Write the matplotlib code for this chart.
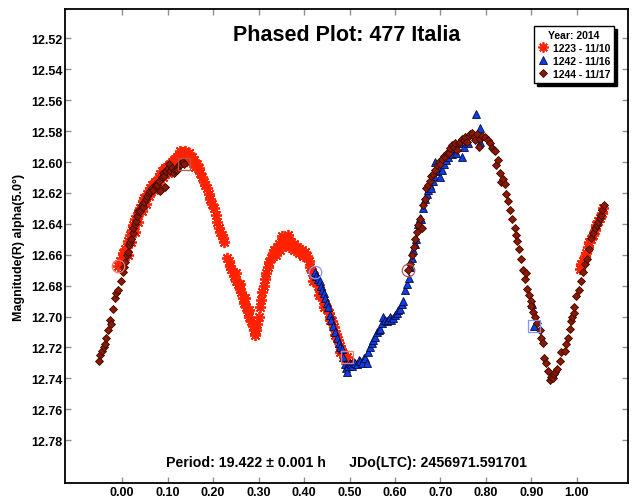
import matplotlib
matplotlib.use("Agg")
import matplotlib.pyplot as plt

plt.rcParams['font.family'] = ['Liberation Sans', 'DejaVu Sans']
plt.rcParams['font.weight'] = 'bold'

# session 1223 - 11/10 (first point = start of run, last point = end of run)
ph_1223 = [-0.008, -0.004, -0.001, 0.003, 0.007, 0.010, 0.014, 0.018, 0.021, 0.025,
           0.029, 0.032, 0.036, 0.040, 0.043, 0.046, 0.049, 0.054, 0.058, 0.062,
           0.066, 0.069, 0.073, 0.076, 0.080, 0.084, 0.088, 0.091, 0.095, 0.098,
           0.102, 0.105, 0.109, 0.113, 0.117, 0.120, 0.125, 0.131, 0.136, 0.142,
           0.147, 0.153, 0.158, 0.164, 0.168, 0.171, 0.175, 0.179, 0.183, 0.187,
           0.191, 0.194, 0.198, 0.202, 0.206, 0.209, 0.212, 0.216, 0.219, 0.222,
           0.225, 0.231, 0.234, 0.237, 0.240, 0.243, 0.247, 0.251, 0.255, 0.259,
           0.262, 0.265, 0.268, 0.272, 0.276, 0.280, 0.284, 0.287, 0.290, 0.292,
           0.295, 0.297, 0.300, 0.303, 0.305, 0.308, 0.311, 0.314, 0.317, 0.320,
           0.323, 0.327, 0.331, 0.335, 0.340, 0.345, 0.350, 0.355, 0.360, 0.366,
           0.372, 0.378, 0.384, 0.390, 0.396, 0.402, 0.407, 0.411, 0.414, 0.418,
           0.422, 0.426, 0.430, 0.434, 0.438, 0.442, 0.446, 0.450, 0.454, 0.458,
           0.462, 0.466, 0.470, 0.474, 0.478, 0.482, 0.486, 0.490,
           0.012, 0.020, 0.028, 0.035, 0.044, 0.052, 0.060, 0.070, 0.080, 0.090,
           0.100, 0.110, 0.120, 0.128, 0.138, 0.148, 0.135, 0.150, 0.160,
           0.338, 0.348, 0.358, 0.368, 0.378, 0.388, 0.398, 0.352, 0.364,
           0.250, 0.260, 0.270, 0.280, 0.420, 0.432, 0.444, 0.456, 0.468, 0.480,
           1.006, 1.010, 1.014, 1.018, 1.021, 1.024, 1.027, 1.031, 1.035, 1.039,
           1.043, 1.047, 1.051, 1.055, 1.058,
           0.494]
mag_1223 = [12.667, 12.664, 12.662, 12.659, 12.656, 12.655, 12.651, 12.647, 12.644, 12.641,
            12.637, 12.635, 12.633, 12.630, 12.628, 12.625, 12.623, 12.621, 12.619, 12.617,
            12.615, 12.614, 12.613, 12.612, 12.610, 12.608, 12.606, 12.605, 12.604, 12.603,
            12.602, 12.601, 12.600, 12.599, 12.598, 12.597, 12.596, 12.595, 12.595, 12.595,
            12.596, 12.597, 12.599, 12.601, 12.604, 12.607, 12.610, 12.613, 12.615, 12.617,
            12.621, 12.624, 12.627, 12.630, 12.634, 12.639, 12.643, 12.645, 12.647, 12.649,
            12.652, 12.662, 12.664, 12.667, 12.669, 12.671, 12.674, 12.677, 12.679, 12.682,
            12.684, 12.688, 12.691, 12.694, 12.697, 12.700, 12.703, 12.706, 12.709, 12.712,
            12.709, 12.705, 12.700, 12.694, 12.689, 12.684, 12.680, 12.676, 12.672, 12.668,
            12.665, 12.662, 12.659, 12.657, 12.655, 12.653, 12.652, 12.651, 12.650, 12.651,
            12.652, 12.653, 12.655, 12.656, 12.657, 12.658, 12.661, 12.664, 12.668, 12.671,
            12.674, 12.677, 12.680, 12.683, 12.686, 12.689, 12.692, 12.695, 12.698, 12.700,
            12.703, 12.707, 12.711, 12.715, 12.719, 12.721, 12.724, 12.728,
            12.660, 12.652, 12.645, 12.639, 12.632, 12.627, 12.622, 12.618, 12.614, 12.610,
            12.607, 12.604, 12.602, 12.593, 12.593, 12.594, 12.599, 12.600, 12.603,
            12.660, 12.657, 12.654, 12.655, 12.657, 12.659, 12.661, 12.648, 12.647,
            12.672, 12.679, 12.688, 12.696, 12.677, 12.686, 12.694, 12.702, 12.712, 12.723,
            12.669, 12.666, 12.664, 12.661, 12.659, 12.655, 12.652, 12.650, 12.647, 12.644,
            12.641, 12.638, 12.636, 12.633, 12.630,
            12.726]

# session 1242 - 11/16
ph_1242 = [0.424, 0.426, 0.430, 0.434, 0.437, 0.440, 0.443, 0.446, 0.450, 0.453,
           0.457, 0.460, 0.464, 0.468, 0.472, 0.476, 0.480, 0.483, 0.486, 0.490,
           0.492, 0.494, 0.497, 0.500, 0.503, 0.505, 0.508, 0.512, 0.516, 0.520,
           0.524, 0.527, 0.531, 0.535, 0.538, 0.541, 0.545, 0.549, 0.552, 0.556,
           0.560, 0.564, 0.567, 0.571, 0.574, 0.578, 0.582, 0.585, 0.589, 0.592,
           0.596, 0.600, 0.604, 0.607, 0.611, 0.615, 0.618, 0.622, 0.626, 0.631,
           0.634, 0.637, 0.640, 0.643, 0.646, 0.651, 0.655, 0.658, 0.662, 0.666,
           0.670, 0.673, 0.677, 0.680, 0.684, 0.686, 0.688, 0.692, 0.696, 0.699,
           0.703, 0.707, 0.712, 0.717, 0.721, 0.726, 0.730, 0.735, 0.741, 0.747,
           0.752, 0.760, 0.778, 0.787, 0.787, 0.902, 0.905]
mag_1242 = [12.671, 12.674, 12.676, 12.677, 12.680, 12.683, 12.685, 12.688, 12.691, 12.694,
            12.699, 12.702, 12.706, 12.710, 12.714, 12.717, 12.720, 12.721, 12.726, 12.731,
            12.733, 12.736, 12.732, 12.730, 12.731, 12.732, 12.729, 12.730, 12.731, 12.728,
            12.729, 12.730, 12.727, 12.727, 12.730, 12.723, 12.720, 12.717, 12.715, 12.713,
            12.710, 12.709, 12.708, 12.704, 12.700, 12.702, 12.703, 12.702, 12.700, 12.702,
            12.701, 12.699, 12.698, 12.696, 12.695, 12.692, 12.690, 12.683, 12.679, 12.675,
            12.668, 12.662, 12.657, 12.653, 12.650, 12.640, 12.636, 12.637, 12.630, 12.624,
            12.621, 12.618, 12.615, 12.617, 12.612, 12.609, 12.600, 12.606, 12.603, 12.610,
            12.605, 12.601, 12.599, 12.597, 12.593, 12.595, 12.591, 12.594, 12.588, 12.597,
            12.590, 12.588, 12.569, 12.578, 12.587, 12.692, 12.706]

# session 1244 - 11/17
ph_1244 = [0.629, 0.633, 0.637, 0.641, 0.644, 0.648, 0.651, 0.655, 0.659, 0.662,
           0.665, 0.668, 0.672, 0.677, 0.680, 0.684, 0.688, 0.692, 0.696, 0.700,
           0.703, 0.707, 0.711, 0.714, 0.718, 0.722, 0.725, 0.729, 0.733, 0.736,
           0.740, 0.744, 0.747, 0.751, 0.755, 0.758, 0.762, 0.766, 0.769, 0.773,
           0.776, 0.780, 0.784, 0.788, 0.792, 0.798, 0.805, 0.810, 0.813, 0.817,
           0.820, 0.823, 0.827, 0.831, 0.834, 0.838, 0.842, 0.845, 0.849, 0.853,
           0.858, 0.864, 0.867, 0.869, 0.873, 0.876, 0.882, 0.886, 0.888, 0.891,
           0.895, 0.898, 0.900, 0.904, 0.908, 0.913, 0.918, 0.920, 0.925, 0.928,
           0.932, 0.937, 0.941, 0.944, 0.947, 0.950, 0.952, 0.957, 0.963, 0.966,
           0.974, 0.977, 0.981, 0.985, 0.986, 0.990, 0.993, 0.993, 0.999, 1.005,
           1.010, 1.014, 1.018, 1.023, 1.027, 1.032, 1.036, 1.040, 1.044, 1.047,
           1.050, 1.053, 1.056, 1.059,
           -0.051, -0.048, -0.044, -0.040, -0.037, -0.035, -0.032, -0.026, -0.024, -0.020,
           -0.015, -0.013, -0.010, -0.003, 0.001, 0.004, 0.007, 0.010, 0.012, 0.015,
           0.018, 0.020, 0.023, 0.025, 0.028, 0.031, 0.033, 0.036, 0.040, 0.043,
           0.046, 0.049, 0.052, 0.055, 0.058, 0.062, 0.065, 0.068, 0.072, 0.076,
           0.080, 0.083, 0.087, 0.090, 0.093, 0.095, 0.096, 0.100, 0.103, 0.106,
           0.110, 0.113, 0.117, 0.120, 0.124, 0.127, 0.130, 0.134, 0.137]
mag_1244 = [12.670, 12.666, 12.660, 12.655, 12.650, 12.645, 12.641, 12.637, 12.643, 12.628,
            12.624, 12.617, 12.615, 12.612, 12.609, 12.608, 12.605, 12.602, 12.600, 12.601,
            12.598, 12.596, 12.597, 12.594, 12.594, 12.591, 12.589, 12.590, 12.588, 12.592,
            12.588, 12.587, 12.585, 12.586, 12.584, 12.587, 12.583, 12.582, 12.581, 12.584,
            12.586, 12.582, 12.590, 12.585, 12.583, 12.584, 12.586, 12.588, 12.591, 12.592,
            12.593, 12.602, 12.599, 12.607, 12.613, 12.611, 12.614, 12.621, 12.625, 12.631,
            12.637, 12.643, 12.647, 12.651, 12.656, 12.663, 12.670, 12.676, 12.672, 12.682,
            12.686, 12.690, 12.693, 12.697, 12.700, 12.704, 12.709, 12.714, 12.717, 12.727,
            12.730, 12.735, 12.741, 12.739, 12.740, 12.737, 12.736, 12.734, 12.729, 12.723,
            12.722, 12.718, 12.714, 12.708, 12.703, 12.700, 12.698, 12.694, 12.687, 12.683,
            12.677, 12.671, 12.666, 12.663, 12.656, 12.649, 12.646, 12.643, 12.641, 12.639,
            12.636, 12.634, 12.631, 12.628,
            12.729, 12.725, 12.722, 12.720, 12.718, 12.714, 12.709, 12.702, 12.705, 12.695,
            12.688, 12.685, 12.683, 12.677, 12.671, 12.668, 12.665, 12.660, 12.658, 12.654,
            12.652, 12.650, 12.646, 12.643, 12.640, 12.638, 12.635, 12.632, 12.632, 12.628,
            12.629, 12.626, 12.624, 12.622, 12.620, 12.619, 12.617, 12.618, 12.615, 12.615,
            12.612, 12.619, 12.610, 12.607, 12.609, 12.616, 12.606, 12.604, 12.601, 12.606,
            12.604, 12.607, 12.605, 12.605, 12.602, 12.601, 12.601, 12.600, 12.601]

labels = ['1223 - 11/10', '1242 - 11/16', '1244 - 11/17']
x_ticks = [0.0, 0.1, 0.2, 0.3, 0.4, 0.5, 0.6, 0.7, 0.8, 0.9, 1.0]
y_ticks = [12.52, 12.54, 12.56, 12.58, 12.60, 12.62, 12.64, 12.66,
           12.68, 12.70, 12.72, 12.74, 12.76, 12.78]

fig = plt.figure(figsize=(6.4, 5.02), dpi=100)
ax = fig.add_axes([0.102, 0.035, 0.879, 0.945])

ax.plot(ph_1223, mag_1223, linestyle='none', marker=(8, 2, 0), ms=8, mew=1.3,
        color='#ff2200', label=labels[0])
ax.plot(ph_1242, mag_1242, linestyle='none', marker='^', ms=6, mfc='#0b3ee6',
        mec='#0a0a40', mew=0.6, label=labels[1])
ax.plot(ph_1244, mag_1244, linestyle='none', marker='D', ms=4.2, mfc='#8b1800',
        mec='#3a0800', mew=0.6, label=labels[2])

# open circle on the first point of each run, open square on the last
ring_colors = ['#ff7a6a', '#7f95ff', '#b05a50']
for ph, mag, c in zip([ph_1223, ph_1242, ph_1244], [mag_1223, mag_1242, mag_1244], ring_colors):
    ax.plot(ph[0], mag[0], linestyle='none', marker='o', ms=9, mfc='none', mec=c, mew=0.9)
    ax.plot(ph[-1], mag[-1], linestyle='none', marker='s', ms=9, mfc='none', mec=c, mew=0.9)

ax.set_xlim(-0.125, 1.112)
ax.set_ylim(12.808, 12.501)
ax.set_xticks(x_ticks)
ax.set_xticklabels(['%.2f' % v for v in x_ticks])
ax.set_yticks(y_ticks)
ax.set_yticklabels(['%.2f' % v for v in y_ticks])
ax.tick_params(direction='in', length=4, width=1, color='#909090',
               top=True, right=True, labelsize=9, pad=2)
for lab in ax.get_xticklabels() + ax.get_yticklabels():
    lab.set_fontweight('bold')
for s in ax.spines.values():
    s.set_linewidth(1.3)

ax.set_ylabel('Magnitude(R) alpha(5.0°)', fontsize=9, fontweight='bold', labelpad=4)

ax.text(0.5, 0.947, 'Phased Plot: 477 Italia', transform=ax.transAxes,
        ha='center', va='center', fontsize=15.5, fontweight='bold')
ax.text(0.5, 0.045, 'Period: 19.422 ± 0.001 h      JDo(LTC): 2456971.591701',
        transform=ax.transAxes, ha='center', va='center', fontsize=10.2, fontweight='bold')

leg = ax.legend(loc='upper right', bbox_to_anchor=(0.975, 0.964), borderaxespad=0,
                title='Year: 2014', fontsize=7.5, title_fontsize=7.5, frameon=True,
                fancybox=False, shadow={'color': 'black', 'alpha': 1.0},
                handlelength=1.0, handletextpad=0.4, borderpad=0.35, labelspacing=0.3,
                markerscale=0.9)
leg.get_frame().set_edgecolor('black')
leg.get_frame().set_linewidth(1)
leg.get_title().set_fontweight('bold')
for t in leg.get_texts():
    t.set_fontweight('bold')

fig.savefig('out.png', dpi=100)
